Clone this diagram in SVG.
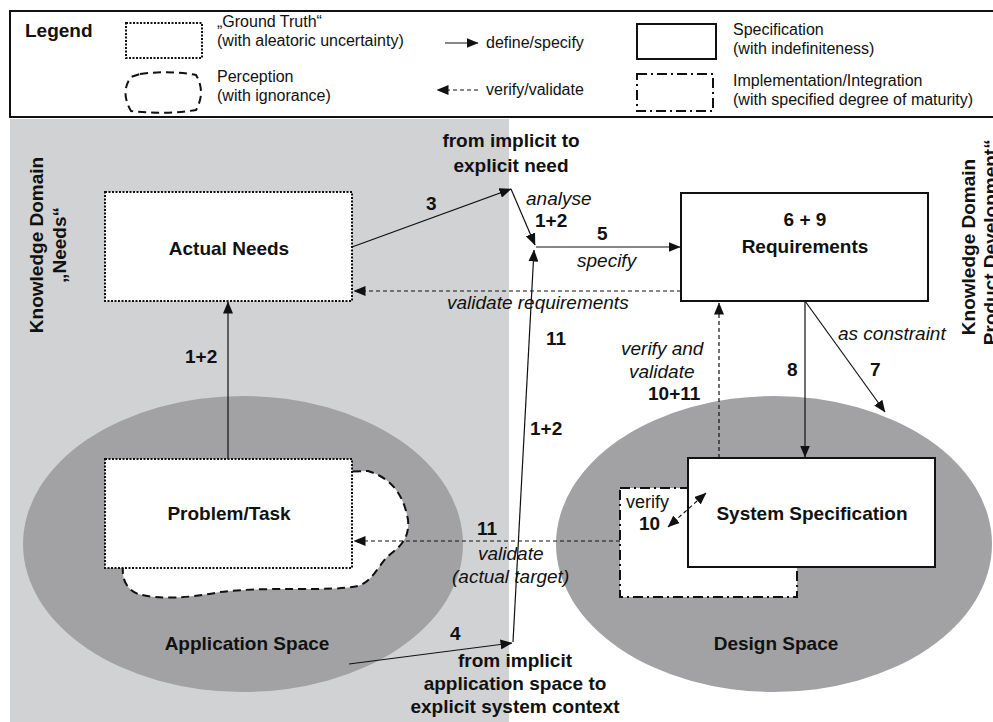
<svg xmlns="http://www.w3.org/2000/svg" width="993" height="722" viewBox="0 0 993 722">
  <defs>
    <marker id="ah" markerUnits="userSpaceOnUse" viewBox="0 0 12 10" markerWidth="12" markerHeight="10" refX="11.5" refY="5" orient="auto-start-reverse">
      <path d="M0,0 L12,5 L0,10 z" fill="#111"/>
    </marker>
    <clipPath id="body"><rect x="0" y="119" width="993" height="603"/></clipPath>
  </defs>
  <style>
    text { font-family: "Liberation Sans", Arial, sans-serif; fill: #111; }
    .b { font-weight: bold; font-size: 19px; }
    .i { font-style: italic; font-size: 19px; }
    .n { font-size: 18px; }
    .lg { font-size: 16px; }
    .c { text-anchor: middle; }
    .ln { stroke: #111; stroke-width: 1.2; fill: none; }
    .dash { stroke-dasharray: 4 3; }
    .spec { fill: #fff; stroke: #111; stroke-width: 2; }
    .truth { fill: #fff; stroke: #111; stroke-width: 2; stroke-dasharray: 2 1.5; }
    .impl { fill: #fff; stroke: #111; stroke-width: 2; stroke-dasharray: 10 4 2 4; }
    .perc { fill: #fff; stroke: #111; stroke-width: 2; stroke-dasharray: 8 5; }
    .space { fill: #a2a2a4; }
  </style>

  <rect x="0" y="0" width="993" height="722" fill="#fff"/>

  <!-- legend -->
  <g id="legend">
    <path d="M993,11 H10 V117 H993" fill="none" stroke="#111" stroke-width="2"/>
    <text class="b" x="25" y="37">Legend</text>
    <rect class="truth" x="126" y="23" width="76" height="35"/>
    <text class="lg" x="217" y="27">„Ground Truth“</text>
    <text class="lg" x="217" y="46">(with aleatoric uncertainty)</text>
    <path class="perc" d="M140,74 Q170,70 196,75 Q206,92 196,110 Q165,115 131,111 Q120,92 131,77 Z"/>
    <text class="lg" x="217" y="82">Perception</text>
    <text class="lg" x="217" y="101">(with ignorance)</text>
    <line class="ln" x1="445" y1="43" x2="478" y2="43" marker-end="url(#ah)"/>
    <text class="lg" x="486" y="48">define/specify</text>
    <line class="ln dash" x1="478" y1="90" x2="437" y2="90" marker-end="url(#ah)"/>
    <text class="lg" x="486" y="95">verify/validate</text>
    <rect class="spec" x="637" y="24" width="79" height="35"/>
    <text class="lg" x="733" y="35">Specification</text>
    <text class="lg" x="733" y="54">(with indefiniteness)</text>
    <rect class="impl" x="637" y="74" width="76" height="37"/>
    <text class="lg" x="733" y="86">Implementation/Integration</text>
    <text class="lg" x="733" y="105">(with specified degree of maturity)</text>
  </g>

  <!-- knowledge domains -->
  <g id="domain-needs">
    <rect x="10" y="119" width="499" height="603" fill="#d1d2d4"/>
    <text class="b c" transform="translate(43,245) rotate(-90)">Knowledge Domain</text>
    <text class="b c" transform="translate(66,245) rotate(-90)">„Needs“</text>
  </g>
  <g id="domain-product" clip-path="url(#body)">
    <text class="b c" transform="translate(975,247) rotate(-90)">Knowledge Domain</text>
    <text class="b c" transform="translate(997,247) rotate(-90)">„Product Development“</text>
  </g>

  <!-- spaces -->
  <g id="application-space">
    <ellipse class="space" cx="243" cy="544" rx="220" ry="148"/>
    <text class="b c" x="247" y="650">Application Space</text>
  </g>
  <g id="design-space">
    <ellipse class="space" cx="774" cy="544" rx="218" ry="148"/>
    <text class="b c" x="776" y="650">Design Space</text>
  </g>

  <!-- nodes -->
  <g id="actual-needs">
    <rect class="truth" x="105" y="192" width="247" height="109"/>
    <text class="b c" x="229" y="255">Actual Needs</text>
  </g>
  <g id="problem-task">
    <path class="perc" d="M340,472 L368,471 C392,478 404,496 408,520 C410,540 398,548 388,556 C378,566 372,582 358,586 C330,592 270,586 220,592 C190,598 160,600 138,594 C124,588 122,576 123,566 L123,472 Z"/>
    <rect class="truth" x="105" y="459" width="247" height="109"/>
    <text class="b c" x="229" y="520">Problem/Task</text>
  </g>
  <g id="requirements">
    <rect class="spec" x="681" y="193" width="247" height="108"/>
    <text class="b c" x="805" y="226">6 + 9</text>
    <text class="b c" x="805" y="253">Requirements</text>
  </g>
  <g id="system-specification">
    <rect class="impl" x="620" y="488" width="177" height="109"/>
    <rect class="spec" x="688" y="458" width="247" height="109"/>
    <text class="b c" x="812" y="520">System Specification</text>
  </g>

  <!-- connectors -->
  <g id="connectors">
    <line class="ln" x1="228" y1="459" x2="228" y2="302" marker-end="url(#ah)"/>
    <line class="ln" x1="352" y1="247" x2="511" y2="189" marker-end="url(#ah)"/>
    <line class="ln" x1="511" y1="189" x2="535" y2="245" marker-end="url(#ah)"/>
    <line class="ln" x1="536" y1="247" x2="680" y2="247" marker-end="url(#ah)"/>
    <line class="ln" x1="349" y1="664" x2="512" y2="643" marker-end="url(#ah)"/>
    <line class="ln" x1="513" y1="642" x2="534" y2="250" marker-end="url(#ah)"/>
    <line class="ln dash" x1="681" y1="291" x2="354" y2="291" marker-end="url(#ah)"/>
    <line class="ln dash" x1="620" y1="541" x2="354" y2="541" marker-end="url(#ah)"/>
    <line class="ln dash" x1="719" y1="458" x2="719" y2="303" marker-end="url(#ah)"/>
    <line class="ln" x1="805" y1="301" x2="805" y2="457" marker-end="url(#ah)"/>
    <line class="ln" x1="805" y1="301" x2="885" y2="412" marker-end="url(#ah)"/>
    <line class="ln dash" x1="668" y1="527" x2="706" y2="493" marker-start="url(#ah)" marker-end="url(#ah)"/>

    <text class="b c" x="511" y="147">from implicit to</text>
    <text class="b c" x="511" y="172">explicit need</text>
    <text class="b" x="426" y="210">3</text>
    <text class="i" x="526" y="205">analyse</text>
    <text class="b" x="535" y="227">1+2</text>
    <text class="b" x="597" y="240">5</text>
    <text class="i" x="577" y="267">specify</text>
    <text class="i" x="447" y="309">validate requirements</text>
    <text class="b" x="546" y="345">11</text>
    <text class="b" x="185" y="363">1+2</text>
    <text class="i" x="621" y="355">verify and</text>
    <text class="i" x="629" y="378">validate</text>
    <text class="b" x="648" y="400">10+11</text>
    <text class="i" x="838" y="340">as constraint</text>
    <text class="b" x="787" y="376">8</text>
    <text class="b" x="870" y="376">7</text>
    <text class="b" x="530" y="435">1+2</text>
    <text class="n" x="626" y="508">verify</text>
    <text class="b" x="639" y="530">10</text>
    <text class="b" x="477" y="535">11</text>
    <text class="i" x="478" y="560">validate</text>
    <text class="i" x="452" y="583">(actual target)</text>
    <text class="b" x="450" y="640">4</text>
    <text class="b c" x="515" y="667">from implicit</text>
    <text class="b c" x="515" y="690">application space to</text>
    <text class="b c" x="515" y="713">explicit system context</text>
  </g>
</svg>
